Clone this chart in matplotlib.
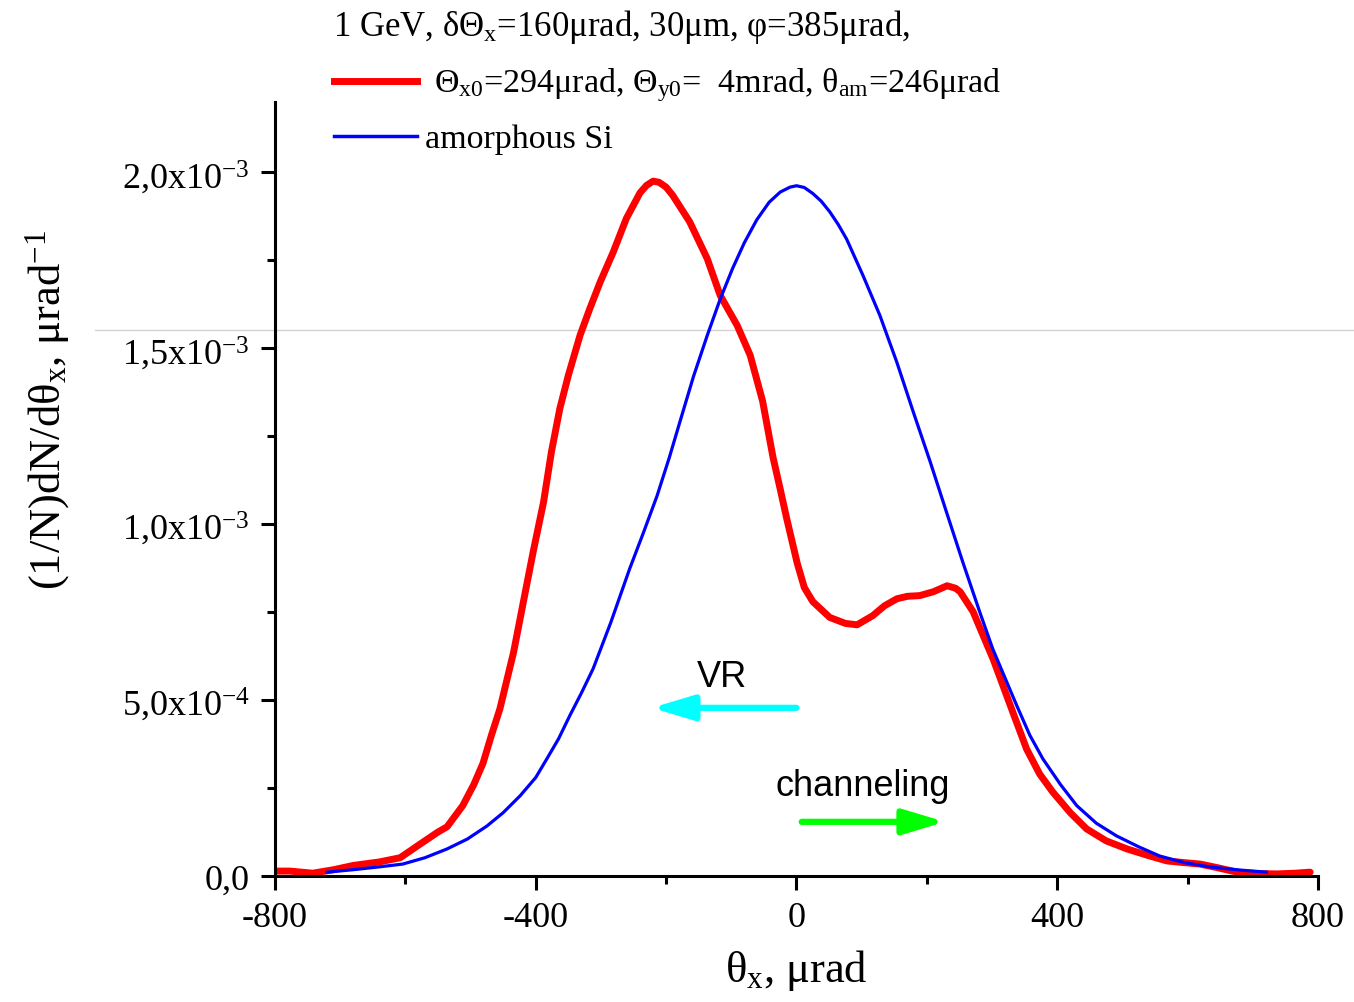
import numpy as np
import matplotlib
matplotlib.use("Agg")
import matplotlib.pyplot as plt
from matplotlib.ticker import MultipleLocator, FixedLocator, FixedFormatter

# red curve : crystal, theta_x0=294urad (y in units of 1e-3 / urad)
red_x = [-800, -777, -742, -710, -680, -640, -608, -578, -550, -536, -512, -495, -481, -468,
         -455, -434, -419, -404, -388, -376, -363, -350, -332, -317, -301, -281, -261, -240,
         -230, -220, -211, -200, -190, -164, -137, -117, -91, -71, -52, -36, -25, -15, 1, 12,
         25, 51, 75, 93, 117, 135, 154, 170, 189, 210, 231, 244, 251, 271, 286, 302, 317, 335,
         353, 373, 393, 420, 445, 475, 507, 540, 568, 595, 619, 645, 676, 705, 737, 765, 788]
red_y = [0.014, 0.014, 0.008, 0.018, 0.030, 0.040, 0.052, 0.090, 0.125, 0.140, 0.200, 0.26,
         0.32, 0.40, 0.475, 0.636, 0.779, 0.921, 1.063, 1.205, 1.329, 1.423, 1.537, 1.613,
         1.689, 1.774, 1.869, 1.942, 1.963, 1.975, 1.972, 1.958, 1.935, 1.86, 1.755, 1.65,
         1.565, 1.48, 1.35, 1.19, 1.10, 1.016, 0.89, 0.82, 0.78, 0.735, 0.718, 0.714, 0.74,
         0.768, 0.788, 0.795, 0.797, 0.808, 0.825, 0.818, 0.808, 0.751, 0.685, 0.615, 0.54,
         0.45, 0.361, 0.29, 0.239, 0.18, 0.134, 0.10, 0.077, 0.058, 0.043, 0.038, 0.034,
         0.024, 0.011, 0.007, 0.006, 0.008, 0.011]

# blue curve : amorphous Si
blue_x = [-720, -680, -640, -604, -570, -536, -505, -475, -450, -424, -400, -383, -365, -348,
          -330, -312, -285, -256, -235, -214, -195, -179, -158, -137, -117, -98, -80, -61,
          -42, -25, -10, 0, 12, 25, 38, 51, 64, 77, 102, 128, 154, 179, 205, 230, 255, 281,
          301, 327, 338, 358, 378, 405, 430, 460, 491, 525, 557, 595, 634, 680, 721]
blue_y = [0.011, 0.018, 0.026, 0.034, 0.052, 0.077, 0.105, 0.142, 0.18, 0.228, 0.28, 0.333,
          0.39, 0.455, 0.52, 0.589, 0.72, 0.873, 0.975, 1.08, 1.19, 1.29, 1.42, 1.536, 1.64,
          1.727, 1.80, 1.865, 1.915, 1.944, 1.958, 1.962, 1.957, 1.94, 1.918, 1.888, 1.852,
          1.81, 1.707, 1.593, 1.46, 1.32, 1.178, 1.035, 0.893, 0.751, 0.646, 0.532, 0.484,
          0.40, 0.333, 0.26, 0.20, 0.15, 0.114, 0.083, 0.057, 0.038, 0.026, 0.017, 0.011]

# arrows (x in urad, y in 1e-3)
vr_arrow_x = [0, -222]
vr_arrow_y = 0.478
ch_arrow_x = [8, 228]
ch_arrow_y = 0.154

ytick_vals = [0, 0.5e-3, 1.0e-3, 1.5e-3, 2.0e-3]
ytick_labels = ['0,0', r'5,0x10$^{-4}$', r'1,0x10$^{-3}$', r'1,5x10$^{-3}$', r'2,0x10$^{-3}$']

title_text = r'1 GeV, δΘ$_\mathrm{x}$=160μrad, 30μm, φ=385μrad,'
red_label = r'Θ$_\mathrm{x0}$=294μrad, Θ$_\mathrm{y0}$=  4mrad, θ$_\mathrm{am}$=246μrad'
blue_label = 'amorphous Si'


def main():
	plt.rcParams['font.family'] = ['Liberation Serif', 'DejaVu Serif']
	plt.rcParams['mathtext.fontset'] = 'custom'
	plt.rcParams['mathtext.rm'] = 'Liberation Serif'
	plt.rcParams['mathtext.it'] = 'Liberation Serif:italic'
	plt.rcParams['mathtext.bf'] = 'Liberation Serif:bold'
	plt.rcParams['axes.unicode_minus'] = False

	fig = plt.figure(figsize=(13.54, 10.03), dpi=100)
	ax = fig.add_axes([0.2031, 0.1256, 0.7703, 0.7717])

	# faint scan line across the picture
	ax.plot([-0.1726, 1.0345], [0.7054, 0.7054], color='#d4cece', lw=0.9,
		transform=ax.transAxes, clip_on=False, zorder=1)

	ax.plot(np.array(blue_x), np.array(blue_y)*1e-3, color='#0000ff', lw=2.3,
		solid_joinstyle='round', zorder=3)
	ax.plot(np.array(red_x), np.array(red_y)*1e-3, color='#ff0000', lw=5,
		solid_joinstyle='round', solid_capstyle='round', zorder=2)

	astyle = '-|>,head_length=1.0,head_width=0.3'
	ax.annotate('', xy=(vr_arrow_x[1], vr_arrow_y*1e-3), xytext=(vr_arrow_x[0], vr_arrow_y*1e-3),
		arrowprops=dict(arrowstyle=astyle, color='#00ffff', lw=4.5, mutation_scale=25,
		shrinkA=0, shrinkB=0, capstyle='round', joinstyle='round'))
	ax.annotate('', xy=(ch_arrow_x[1], ch_arrow_y*1e-3), xytext=(ch_arrow_x[0], ch_arrow_y*1e-3),
		arrowprops=dict(arrowstyle=astyle, color='#00ff00', lw=4.5, mutation_scale=25,
		shrinkA=0, shrinkB=0, capstyle='round', joinstyle='round'))
	ax.text(-114, 0.566e-3, 'VR', family='Liberation Sans', fontsize=26, ha='center', va='center')
	ax.text(102, 0.256e-3, 'channeling', family='Liberation Sans', fontsize=26, ha='center', va='center')

	ax.set_xlim(-800, 800)
	ax.set_ylim(0, 2.2e-3)
	ax.xaxis.set_major_locator(MultipleLocator(400))
	ax.xaxis.set_minor_locator(MultipleLocator(200))
	ax.yaxis.set_major_locator(FixedLocator(ytick_vals))
	ax.yaxis.set_major_formatter(FixedFormatter(ytick_labels))
	ax.yaxis.set_minor_locator(MultipleLocator(0.25e-3))

	for s in ['top', 'right']:
		ax.spines[s].set_visible(False)
	for s in ['left', 'bottom']:
		ax.spines[s].set_linewidth(2.2)
	ax.tick_params(which='major', direction='out', length=10, width=2.2, labelsize=26, pad=8)
	ax.tick_params(which='minor', direction='out', length=5.5, width=2.2)

	ax.set_xlabel(r'θ$_\mathrm{x}$, μrad', fontsize=32, labelpad=9)
	ax.set_ylabel(r'(1/N)dN/dθ$_\mathrm{x}$, μrad$^{-1}$', fontsize=32)
	ax.yaxis.set_label_coords(-0.195, 0.603)

	# legend block
	ax.text(0.0556, 1.0866, title_text, transform=ax.transAxes, fontsize=25, va='baseline')
	ax.plot([0.0566, 0.136], [1.027, 1.027], color='#ff0000', lw=5,
		transform=ax.transAxes, clip_on=False)
	ax.text(0.1524, 1.014, red_label, transform=ax.transAxes, fontsize=24.5, va='baseline')
	ax.plot([0.0566, 0.136], [0.956, 0.956], color='#0000ff', lw=2.5,
		transform=ax.transAxes, clip_on=False)
	ax.text(0.1438, 0.942, blue_label, transform=ax.transAxes, fontsize=24.5, va='baseline')

	fig.savefig('out.png', dpi=100)


if __name__ == '__main__':
	main()
